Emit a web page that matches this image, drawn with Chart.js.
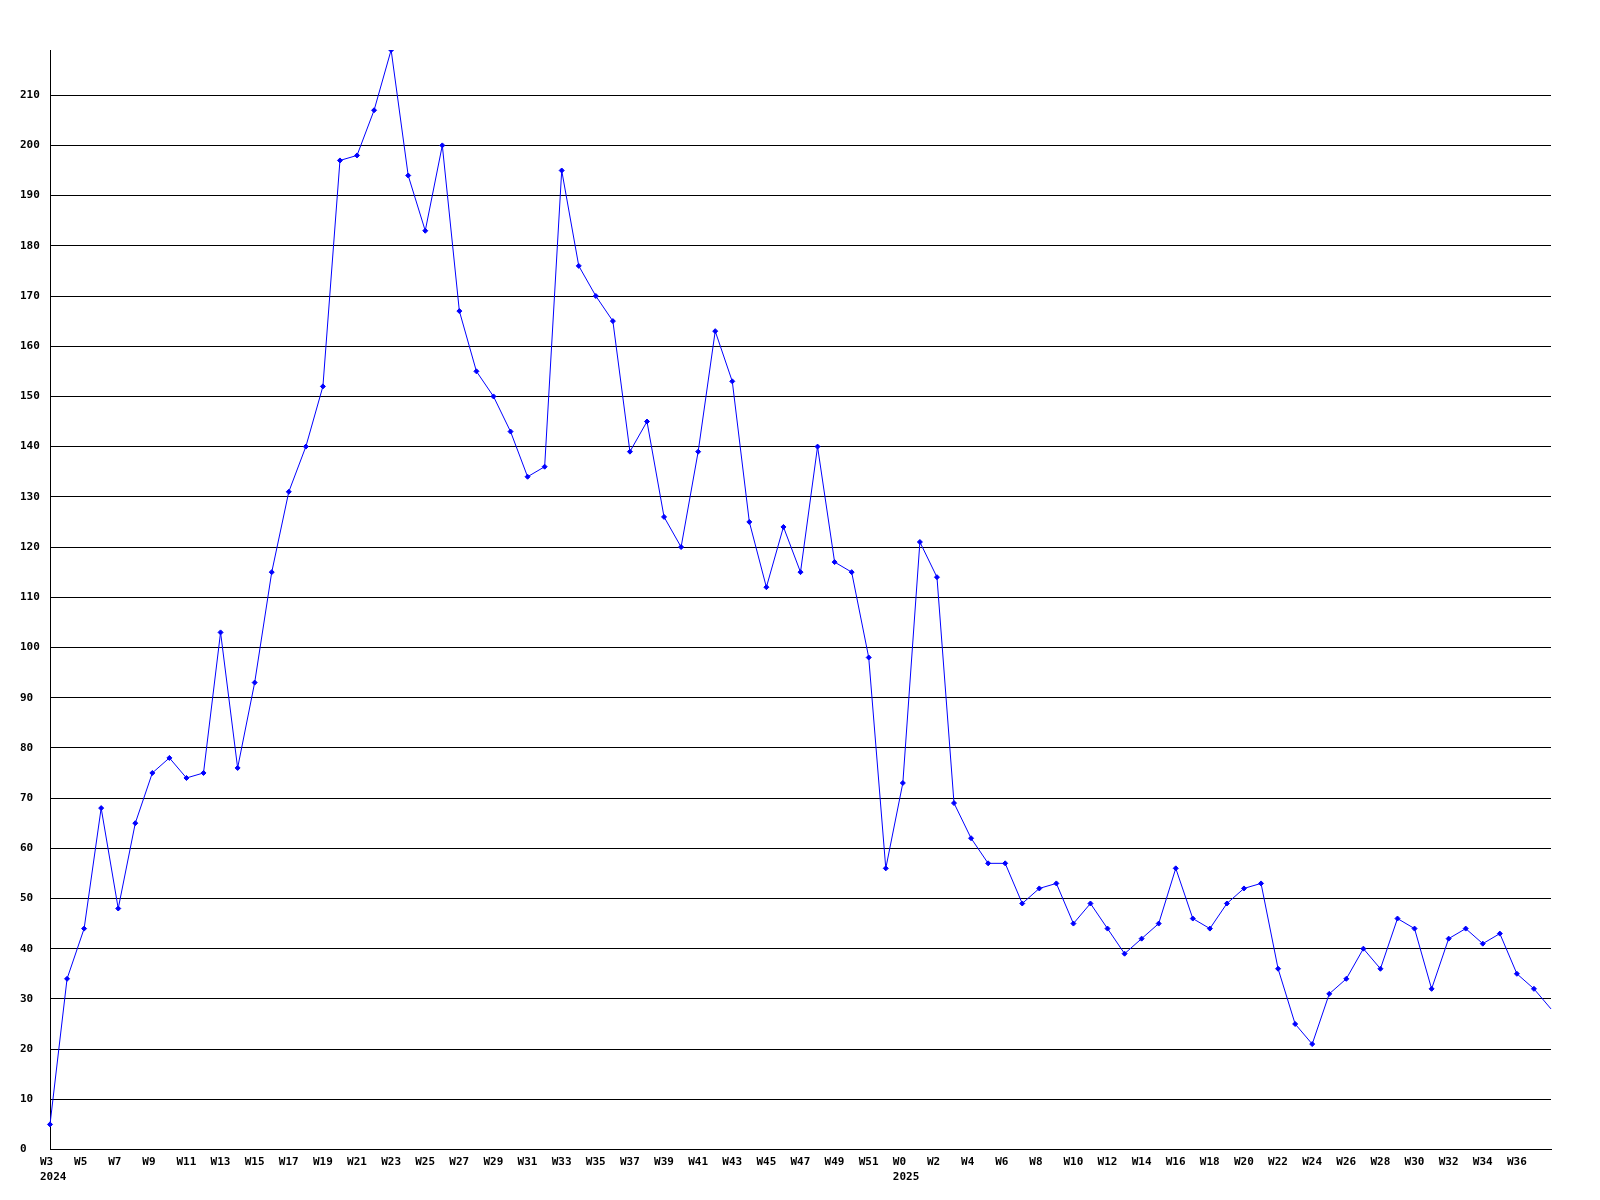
<!DOCTYPE html>
<html>
<head>
<meta charset="utf-8">
<script src="https://cdn.jsdelivr.net/npm/chart.js@4.4.1/dist/chart.umd.min.js"></script>
<style>
  body { margin: 0; background: #fff; }
  canvas { display: block; }
</style>
</head>
<body>
<canvas id="myChart" width="1600" height="1200"></canvas>
<script>
// week labels, 2024 W3 .. 2025 W38
var weeks = [
  "W3", "W4", "W5", "W6", "W7", "W8", "W9", "W10", "W11", "W12",
  "W13", "W14", "W15", "W16", "W17", "W18", "W19", "W20", "W21", "W22",
  "W23", "W24", "W25", "W26", "W27", "W28", "W29", "W30", "W31", "W32",
  "W33", "W34", "W35", "W36", "W37", "W38", "W39", "W40", "W41", "W42",
  "W43", "W44", "W45", "W46", "W47", "W48", "W49", "W50", "W51", "W52",
  "W0", "W1", "W2", "W3", "W4", "W5", "W6", "W7", "W8", "W9",
  "W10", "W11", "W12", "W13", "W14", "W15", "W16", "W17", "W18", "W19",
  "W20", "W21", "W22", "W23", "W24", "W25", "W26", "W27", "W28", "W29",
  "W30", "W31", "W32", "W33", "W34", "W35", "W36", "W37", "W38"
];

// year shown under the first week of each year (index into weeks)
var yearIndex = [0, 50];
var yearLabels = ["2024", "2025"];

var counts = [
  5, 34, 44, 68, 48, 65, 75, 78, 74, 75,
  103, 76, 93, 115, 131, 140, 152, 197, 198, 207,
  219, 194, 183, 200, 167, 155, 150, 143, 134, 136,
  195, 176, 170, 165, 139, 145, 126, 120, 139, 163,
  153, 125, 112, 124, 115, 140, 117, 115, 98, 56,
  73, 121, 114, 69, 62, 57, 57, 49, 52, 53,
  45, 49, 44, 39, 42, 45, 56, 46, 44, 49,
  52, 53, 36, 25, 21, 31, 34, 40, 36, 46,
  44, 32, 42, 44, 41, 43, 35, 32, 28
];

var yMax = 219;

var tickFont = { family: "DejaVu Sans Mono", size: 11, weight: "bold", lineHeight: 1.4 };

var ctx = document.getElementById("myChart").getContext("2d");
var chart = new Chart(ctx, {
  type: "line",
  data: {
    labels: weeks,
    datasets: [
      {
        data: counts,
        borderColor: "#0000ff",
        backgroundColor: "#0000ff",
        borderWidth: 1,
        tension: 0,
        fill: false,
        pointStyle: "rectRot",
        pointRadius: function (c) {
          return c.dataIndex === counts.length - 1 ? 0 : 2.5;
        },
        pointBorderWidth: 1,
      },
    ],
  },
  options: {
    responsive: false,
    animation: false,
    devicePixelRatio: 1,
    layout: { padding: { left: 20, top: 50, right: 49, bottom: 0 } },
    plugins: {
      legend: { display: false },
      tooltip: { enabled: false },
    },
    scales: {
      x: {
        offset: false,
        grid: { display: false, drawTicks: false },
        border: { display: true, color: "#000", width: 1 },
        ticks: {
          autoSkip: false,
          maxRotation: 0,
          minRotation: 0,
          align: "start",
          labelOffset: -10,
          padding: 5,
          color: "#000",
          font: tickFont,
          callback: function (val, i) {
            if (i % 2 || i === weeks.length - 1) return null;
            var k = yearIndex.indexOf(i);
            return k >= 0 ? [weeks[i], yearLabels[k]] : weeks[i];
          },
        },
        afterFit: function (axis) {
          axis.height = 50.5;
        },
      },
      y: {
        min: 0,
        max: yMax,
        grid: { color: "#000", lineWidth: 1, drawTicks: false },
        border: { display: true, color: "#000", width: 1 },
        ticks: {
          stepSize: 10,
          includeBounds: false,
          crossAlign: "far",
          padding: 0,
          color: "#000",
          font: tickFont,
        },
        afterFit: function (axis) {
          axis.width = 30;
        },
      },
    },
  },
});
</script>
</body>
</html>
